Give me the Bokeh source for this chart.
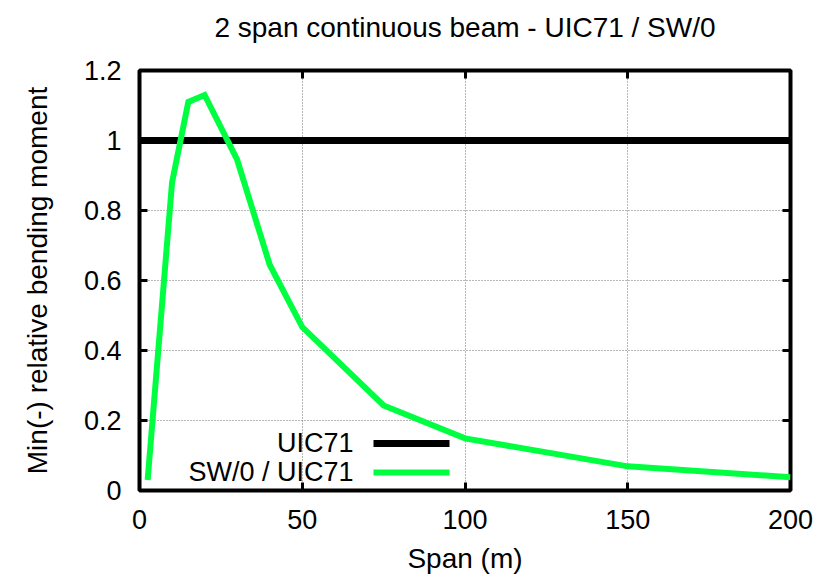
from bokeh.plotting import figure
from bokeh.models import Range1d, LinearAxis, FixedTicker, Label, Arrow, CustomJSTickFormatter
from bokeh.embed import file_html
from bokeh.resources import INLINE

# ---- data ----
span_m = [2.5, 10, 15, 20, 30, 40, 50, 75, 100, 150, 200]
sw0_ratio = [0.03, 0.88, 1.11, 1.13, 0.945, 0.645, 0.467, 0.243, 0.149, 0.069, 0.038]
uic71_span = [0, 200]
uic71_ratio = [1.0, 1.0]
x_ticks = [0, 50, 100, 150, 200]
y_ticks = [0, 0.2, 0.4, 0.6, 0.8, 1.0, 1.2]
y_tick_labels = ["0", "0.2", "0.4", "0.6", "0.8", "1", "1.2"]
legend_labels = ["UIC71", "SW/0 / UIC71"]
title_text = "2 span continuous beam - UIC71 / SW/0"
x_label = "Span (m)"
y_label = "Min(-) relative bending moment"

FONT = "Liberation Sans"
GREEN = "#00ff40"

p = figure(frame_width=651, frame_height=420,
           min_border_left=139, min_border_right=23,
           min_border_top=70, min_border_bottom=10,
           x_range=Range1d(0, 200), y_range=Range1d(0, 1.2),
           output_backend="svg", toolbar_location=None,
           title=title_text)

p.title.text_font = FONT
p.title.text_font_size = "28px"
p.title.text_font_style = "normal"
p.title.text_color = "black"
p.title.align = "center"
p.title.vertical_align = "bottom"
p.title.standoff = 4

p.outline_line_color = "black"
p.outline_line_width = 4
p.outline_line_alpha = 1.0
p.background_fill_color = "white"
p.border_fill_color = "white"

# grid
p.grid.grid_line_color = "#707070"
p.grid.grid_line_dash = "1 2"
p.grid.grid_line_width = 1

def style_axis(ax):
    ax.axis_line_color = None
    ax.major_tick_in = 8
    ax.major_tick_out = 0
    ax.major_tick_line_width = 3
    ax.major_tick_line_color = "black"
    ax.minor_tick_line_color = None
    ax.major_label_text_font = FONT
    ax.major_label_text_font_size = "27px"
    ax.major_label_text_color = "black"
    ax.axis_label_text_font = FONT
    ax.axis_label_text_font_size = "28px"
    ax.axis_label_text_font_style = "normal"
    ax.axis_label_text_color = "black"

xa = p.xaxis[0]
ya = p.yaxis[0]
xa.ticker = FixedTicker(ticks=x_ticks)
ya.ticker = FixedTicker(ticks=y_ticks)
ya.major_label_overrides = {t: s for t, s in zip(y_ticks, y_tick_labels)}
style_axis(xa)
style_axis(ya)
xa.axis_label = x_label
ya.axis_label = y_label
xa.major_label_standoff = 19
xa.axis_label_standoff = 11
ya.major_label_standoff = 18
ya.axis_label_standoff = 28

blank = CustomJSTickFormatter(code="return ''")
top = LinearAxis(ticker=FixedTicker(ticks=x_ticks), formatter=blank)
right = LinearAxis(ticker=FixedTicker(ticks=y_ticks), formatter=blank)
for ax in (top, right):
    style_axis(ax)
    ax.major_label_text_font_size = "1px"
    ax.major_label_standoff = 0
# spacer between frame and title (gnuplot leaves a gap above the frame)
top.axis_label = " "
top.axis_label_text_font_size = "1px"
top.axis_label_standoff = 22
p.add_layout(top, "above")
p.add_layout(right, "right")

# lines
p.line(uic71_span, uic71_ratio, line_color="black", line_width=7)
p.line(span_m, sw0_ratio, line_color=GREEN, line_width=6, line_join="miter")

# legend (gnuplot style: text then sample), positioned in screen px within frame
rows = [(48, "black", 7), (19, GREEN, 6)]
for (ypos, color, lw), txt in zip(rows, legend_labels):
    p.add_layout(Label(x=214, y=ypos, x_units="screen", y_units="screen", text=txt,
                       text_align="right", text_baseline="middle",
                       text_font=FONT, text_font_size="27px", text_color="black"))
    p.add_layout(Arrow(x_start=234, y_start=ypos - 1, x_end=310, y_end=ypos - 1,
                       start_units="screen", end_units="screen",
                       start=None, end=None, line_color=color, line_width=lw))

open("out.html", "w").write(file_html(p, INLINE))
